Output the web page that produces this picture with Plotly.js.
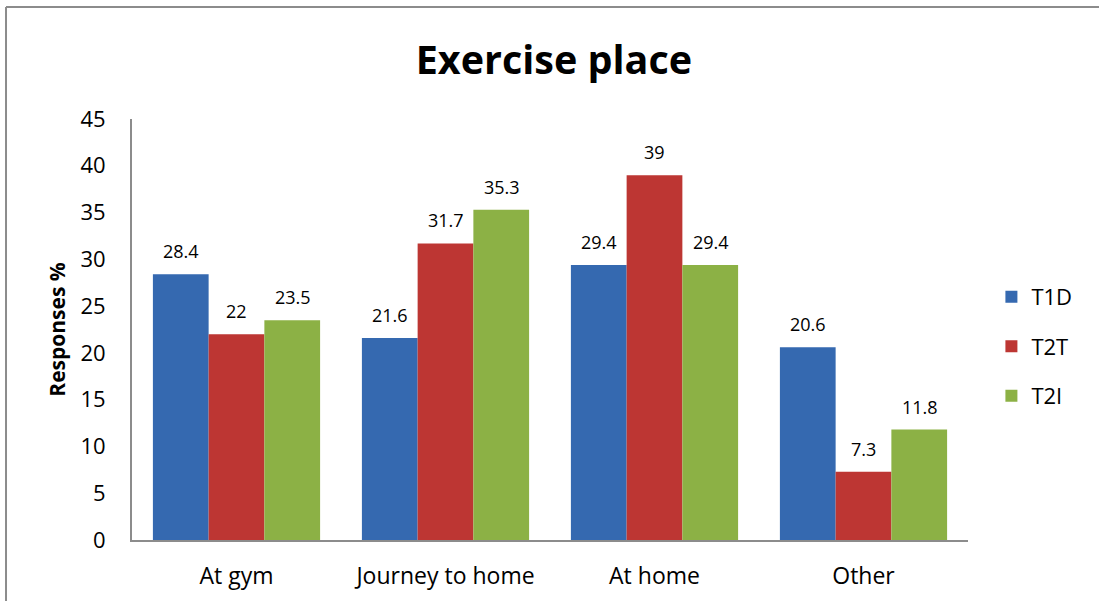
<!DOCTYPE html>
<html>
<head>
<meta charset="utf-8">
<script src="https://cdn.plot.ly/plotly-3.0.1.min.js"></script>
<style>
html,body{margin:0;padding:0;background:#fff;}
#chart{width:1099px;height:601px;}
</style>
</head>
<body>
<div id="chart"></div>
<script>
const categories = ["At gym", "Journey to home", "At home", "Other"];
const seriesNames = ["T1D", "T2T", "T2I"];
const t1d = [28.4, 21.6, 29.4, 20.6];
const t2t = [22, 31.7, 39, 7.3];
const t2i = [23.5, 35.3, 29.4, 11.8];
const yTicks = [0, 5, 10, 15, 20, 25, 30, 35, 40, 45];

const colors = ["#3569B0", "#BD3633", "#8CB145"];
const allSeries = [t1d, t2t, t2i];
const font = "'Open Sans', Lato, sans-serif";

const traces = allSeries.map((vals, i) => ({
  type: "bar",
  name: seriesNames[i],
  x: categories,
  y: vals,
  marker: {color: colors[i], line: {width: 0}},
  legendgroup: "g" + i,
  hoverinfo: "x+y+name"
}));

const barPx = 56;
const annotations = [];
allSeries.forEach((vals, i) => {
  vals.forEach((v, j) => {
    annotations.push({
      x: categories[j], y: v, xref: "x", yref: "y",
      text: String(v), showarrow: false,
      xshift: (i - 1) * barPx, yanchor: "bottom", yshift: 9,
      font: {family: font, size: 18, color: "#000"}
    });
  });
});

const layout = {
  width: 1099, height: 601,
  margin: {l: 132, r: 131, t: 119, b: 61},
  paper_bgcolor: "#fff", plot_bgcolor: "#fff",
  title: {text: "<b>Exercise place</b>", x: 0.504, xanchor: "center", y: 0.9, yanchor: "middle",
          font: {family: font, size: 39.5, color: "#000"}},
  barmode: "group", bargap: 0.2, bargroupgap: 0,
  xaxis: {
    type: "category", range: [-0.5, 3.5],
    showline: true, linecolor: "#8c8c8c", linewidth: 2,
    showgrid: false, zeroline: false, ticks: "",
    ticklabelstandoff: 14,
    tickfont: {family: font, size: 23, color: "#000"}
  },
  yaxis: {
    range: [0, 45], tickvals: yTicks, ticktext: yTicks.map(String),
    showline: true, linecolor: "#8c8c8c", linewidth: 2,
    showgrid: false, zeroline: false, ticks: "",
    ticklabelstandoff: 20,
    tickfont: {family: font, size: 22, color: "#000"},
    title: {text: "<b>Responses %</b>", standoff: 9, font: {family: font, size: 21, color: "#000"}}
  },
  legend: {
    x: 1.028, xanchor: "left", y: 0.46, yanchor: "middle",
    font: {family: font, size: 22, color: "#000"},
    tracegroupgap: 18, traceorder: "grouped", itemwidth: 30,
    bgcolor: "rgba(0,0,0,0)"
  },
  annotations: annotations,
  shapes: [
    {type: "line", xref: "paper", yref: "paper", x0: -0.1507, x1: -0.1507, y0: 1.266, y1: -0.2, line: {color: "#8c8c8c", width: 2}},
    {type: "line", xref: "paper", yref: "paper", x0: -0.1507, x1: 1.2, y0: 1.266, y1: 1.266, line: {color: "#8c8c8c", width: 2}}
  ]
};

Plotly.newPlot("chart", traces, layout, {displayModeBar: false, responsive: false});
</script>
</body>
</html>
